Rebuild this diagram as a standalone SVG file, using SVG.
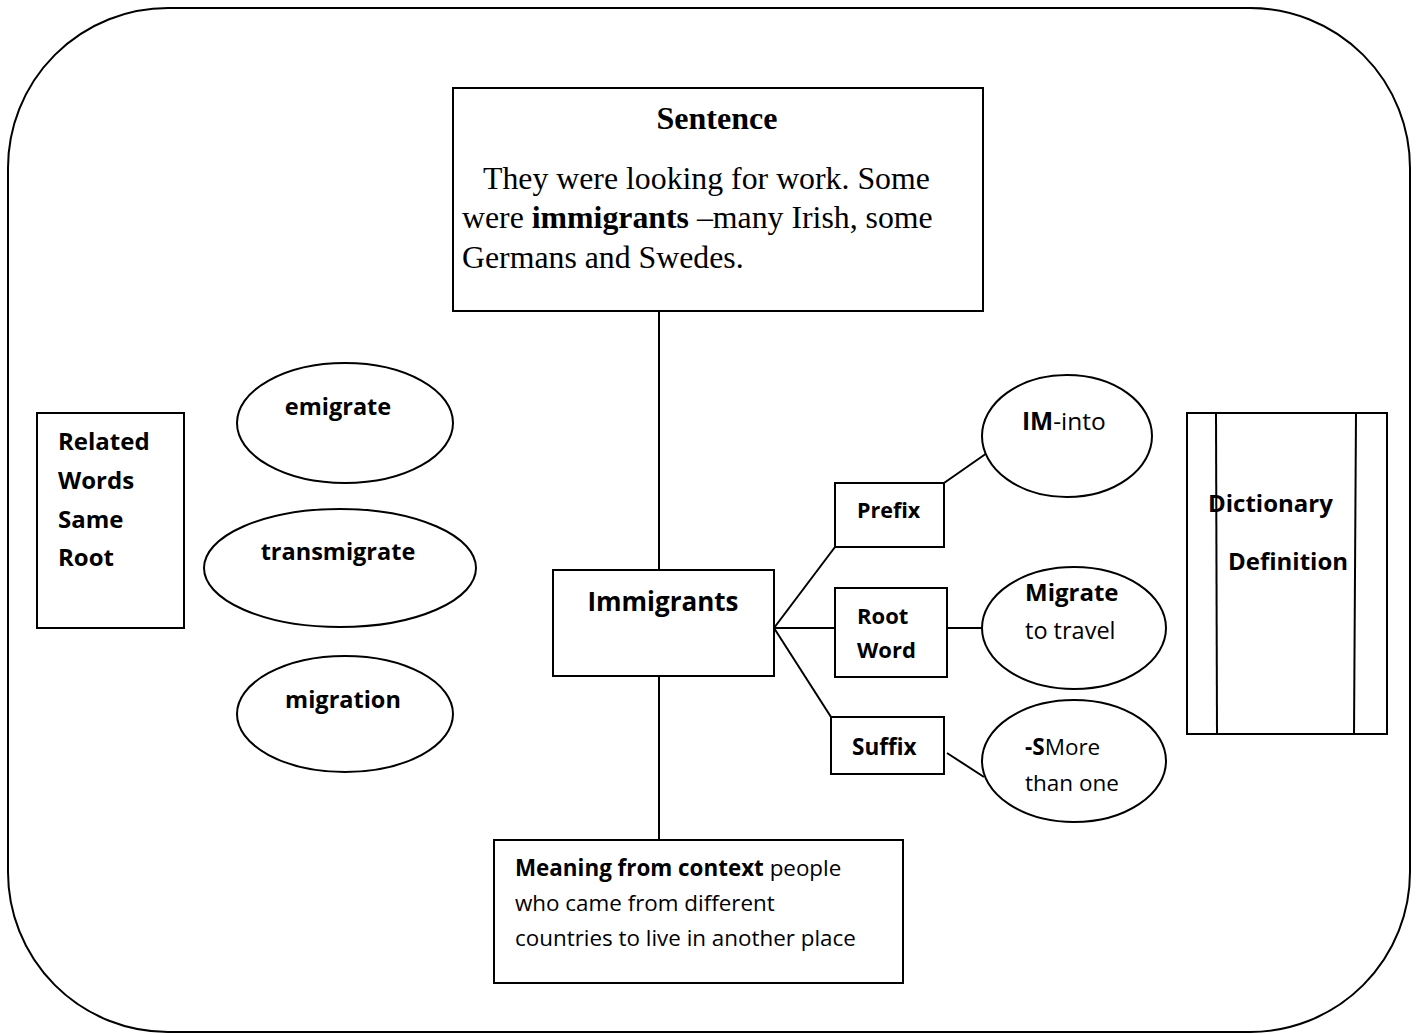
<svg xmlns="http://www.w3.org/2000/svg" width="1419" height="1034" viewBox="0 0 1419 1034">
<style>
.s{fill:#fff;stroke:#000;stroke-width:2}
.ln{fill:none;stroke:#000;stroke-width:2}
.t{font-family:"Open Sans",Lato,"Liberation Sans",sans-serif;fill:#000}
.b{font-weight:bold}
.serif{font-family:"Liberation Serif","Times New Roman",serif;fill:#000}
</style>
<rect width="1419" height="1034" fill="#fff"/>
<rect id="frame" x="8" y="8" width="1402" height="1024" rx="160" ry="160" fill="none" stroke="#000" stroke-width="2"/>
<g id="connectors">
<line class="ln" x1="659" y1="311" x2="659" y2="570"/>
<line class="ln" x1="659" y1="676" x2="659" y2="840"/>
<line class="ln" x1="774" y1="628" x2="835" y2="547"/>
<line class="ln" x1="774" y1="628" x2="835" y2="628"/>
<line class="ln" x1="774" y1="628" x2="831" y2="717"/>
<line class="ln" x1="944" y1="483" x2="987" y2="453"/>
<line class="ln" x1="943" y1="628" x2="983" y2="628"/>
<line class="ln" x1="947" y1="753" x2="984" y2="777"/>
</g>
<g id="sentence">
<rect class="s" x="453" y="88" width="530" height="223"/>
<text class="serif b" x="717" y="129" font-size="32" text-anchor="middle">Sentence</text>
<text class="serif" x="483" y="189" font-size="31.8">They were looking for work. Some</text>
<text class="serif" x="462" y="228" font-size="31.8">were <tspan font-weight="bold">immigrants</tspan> –many Irish, some</text>
<text class="serif" x="462" y="268" font-size="31.8">Germans and Swedes.</text>
</g>
<g id="immigrants">
<rect class="s" x="553" y="570" width="221" height="106"/>
<text class="t b" x="663" y="611" font-size="26" text-anchor="middle">Immigrants</text>
</g>
<g id="prefix">
<rect class="s" x="835" y="483" width="109" height="64"/>
<text class="t b" x="857" y="518" font-size="21.5">Prefix</text>
</g>
<g id="rootword">
<rect class="s" x="835" y="588" width="112" height="89"/>
<text class="t b" x="857" y="624" font-size="22">Root</text>
<text class="t b" x="857" y="658" font-size="22">Word</text>
</g>
<g id="suffix">
<rect class="s" x="831" y="717" width="113" height="57"/>
<text class="t b" x="852" y="755" font-size="22.5">Suffix</text>
</g>
<g id="im">
<ellipse class="s" cx="1067" cy="436" rx="85" ry="61"/>
<text class="t" x="1022" y="430" font-size="24.5"><tspan font-weight="bold">IM</tspan>-into</text>
</g>
<g id="migrate">
<ellipse class="s" cx="1074" cy="628" rx="92" ry="61"/>
<text class="t b" x="1025" y="601" font-size="24">Migrate</text>
<text class="t" x="1025" y="639" font-size="23.5">to travel</text>
</g>
<g id="s">
<ellipse class="s" cx="1074" cy="761" rx="92" ry="61"/>
<text class="t" x="1025" y="755" font-size="22.5"><tspan font-weight="bold">-S</tspan>More</text>
<text class="t" x="1025" y="791" font-size="22.5">than one</text>
</g>
<g id="related">
<rect class="s" x="37" y="413" width="147" height="215"/>
<text class="t b" x="58" y="450" font-size="24">Related</text>
<text class="t b" x="58" y="489" font-size="24">Words</text>
<text class="t b" x="58" y="528" font-size="24">Same</text>
<text class="t b" x="58" y="566" font-size="24">Root</text>
</g>
<g id="emigrate">
<ellipse class="s" cx="345" cy="423" rx="108" ry="60"/>
<text class="t b" x="338" y="415" font-size="23.5" text-anchor="middle">emigrate</text>
</g>
<g id="transmigrate">
<ellipse class="s" cx="340" cy="568" rx="136" ry="59"/>
<text class="t b" x="338" y="560" font-size="23.5" text-anchor="middle">transmigrate</text>
</g>
<g id="migration">
<ellipse class="s" cx="345" cy="714" rx="108" ry="58"/>
<text class="t b" x="343" y="708" font-size="23.5" text-anchor="middle">migration</text>
</g>
<g id="dictionary">
<rect class="s" x="1187" y="413" width="200" height="321"/>
<line class="ln" x1="1216" y1="413" x2="1217" y2="734"/>
<line class="ln" x1="1356" y1="413" x2="1354" y2="734"/>
<text class="t b" x="1208" y="512" font-size="24">Dictionary</text>
<text class="t b" x="1228" y="570" font-size="24">Definition</text>
</g>
<g id="meaning">
<rect class="s" x="494" y="840" width="409" height="143"/>
<text class="t" x="515" y="876" font-size="22.4"><tspan font-weight="bold">Meaning from context</tspan> people</text>
<text class="t" x="515" y="911" font-size="22.4">who came from different</text>
<text class="t" x="515" y="946" font-size="22.4">countries to live in another place</text>
</g>
</svg>
